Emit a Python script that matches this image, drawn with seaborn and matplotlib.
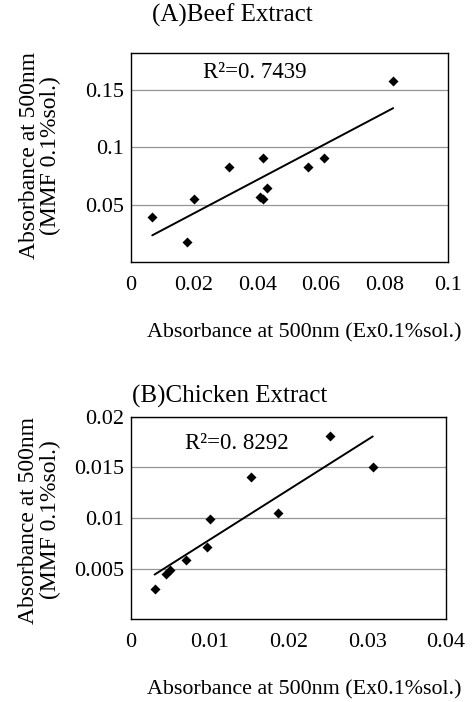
import numpy as np
import pandas as pd
import matplotlib
matplotlib.use("Agg")
import matplotlib.pyplot as plt
import seaborn as sns

# (A) Beef extract: absorbance at 500 nm, extract vs. MMF solution
beef_ex = [0.0068, 0.0178, 0.0200, 0.0310, 0.0418, 0.0408, 0.0418, 0.0430, 0.0559, 0.0609, 0.0828]
beef_mmf = [0.0397, 0.0179, 0.0551, 0.0830, 0.0905, 0.0571, 0.0548, 0.0645, 0.0830, 0.0905, 0.1580]
beef_r2 = "R\u00b2=0. 7439"

# (B) Chicken extract
chick_ex = [0.0030, 0.0044, 0.0050, 0.0070, 0.0097, 0.0100, 0.0152, 0.0187, 0.0253, 0.0307]
chick_mmf = [0.0030, 0.0045, 0.0049, 0.0059, 0.0071, 0.0099, 0.0140, 0.0105, 0.0181, 0.0150]
chick_r2 = "R\u00b2=0. 8292"

beef_xticks = [0, 0.02, 0.04, 0.06, 0.08, 0.1]
beef_xlabels = ["0", "0.02", "0.04", "0.06", "0.08", "0.1"]
beef_yticks = [0.05, 0.1, 0.15]
beef_ylabels = ["0.05", "0.1", "0.15"]

chick_xticks = [0, 0.01, 0.02, 0.03, 0.04]
chick_xlabels = ["0", "0.01", "0.02", "0.03", "0.04"]
chick_yticks = [0.005, 0.01, 0.015, 0.02]
chick_ylabels = ["0.005", "0.01", "0.015", "0.02"]

x_title = "Absorbance at 500nm (Ex0.1%sol.)"
y_title = "Absorbance at 500nm\n(MMF 0.1%sol.)"

sns.set_theme(style="white")
plt.rcParams["font.family"] = ["Liberation Serif", "DejaVu Serif"]
plt.rcParams["text.color"] = "black"
plt.rcParams["axes.labelcolor"] = "black"
plt.rcParams["xtick.color"] = "black"
plt.rcParams["ytick.color"] = "black"

fig = plt.figure(figsize=(4.72, 7.02), dpi=100)
ax_a = fig.add_axes([0.2769, 0.6264, 0.6716, 0.2985])
ax_b = fig.add_axes([0.2775, 0.1178, 0.6674, 0.2886])

TICK_FS = 16
XLAB_FS = 15.8
YLAB_FS = 17
R2_FS = 16.5
TITLE_FS = 18


def panel(ax, xs, ys, xlim, ylim, xt, xtl, yt, ytl, r2, r2_xy, xl_pos, yl_pos):
    df = pd.DataFrame({"ex": xs, "mmf": ys})
    for y in yt:
        ax.axhline(y, color="#959595", lw=0.9, zorder=0)
    sns.regplot(data=df, x="ex", y="mmf", ax=ax, scatter=False, ci=None,
                truncate=True, line_kws=dict(color="black", lw=1.4))
    sns.scatterplot(data=df, x="ex", y="mmf", ax=ax, marker="D", s=26,
                    color="black", linewidth=0, zorder=3)
    ax.set_xlim(*xlim)
    ax.set_ylim(*ylim)
    ax.set_xticks(xt)
    ax.set_xticklabels(xtl, fontsize=TICK_FS)
    ax.set_yticks(yt)
    ax.set_yticklabels(ytl, fontsize=TICK_FS)
    ax.tick_params(axis="x", length=0, pad=10)
    ax.tick_params(axis="y", length=0, pad=5)
    for s in ax.spines.values():
        s.set_color("black")
        s.set_linewidth(1.0)
    ax.text(r2_xy[0], r2_xy[1], r2, fontsize=R2_FS, ha="center", va="center")
    ax.set_xlabel(x_title, fontsize=XLAB_FS, va="center")
    ax.xaxis.set_label_coords(*xl_pos)
    ax.set_ylabel(y_title, fontsize=YLAB_FS, va="center", linespacing=1.05)
    ax.yaxis.set_label_coords(*yl_pos)


panel(ax_a, beef_ex, beef_mmf, (0, 0.1), (0, 0.1825), beef_xticks, beef_xlabels,
      beef_yticks, beef_ylabels, beef_r2, (0.039, 0.165), (0.547, -0.337), (-0.286, 0.51))
panel(ax_b, chick_ex, chick_mmf, (0, 0.04), (0, 0.02), chick_xticks, chick_xlabels,
      chick_yticks, chick_ylabels, chick_r2, (0.0135, 0.0174), (0.549, -0.349), (-0.289, 0.49))

fig.text(0.4915, 0.9786, "(A)Beef Extract", fontsize=TITLE_FS, ha="center", va="center")
fig.text(0.487, 0.435, "(B)Chicken Extract", fontsize=TITLE_FS, ha="center", va="center")

fig.savefig("out.png", dpi=100, facecolor="white")
